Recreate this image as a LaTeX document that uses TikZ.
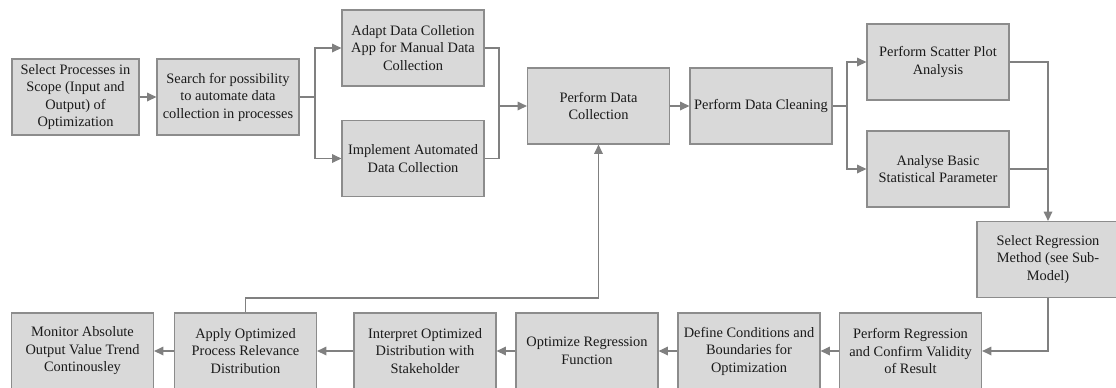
\documentclass[tikz,border=0pt]{standalone}
\usepackage{fontspec}
\setmainfont{Liberation Serif}
\usetikzlibrary{arrows.meta}
\definecolor{boxfill}{HTML}{D9D9D9}
\definecolor{boxline}{HTML}{8C8C8C}
\definecolor{conline}{HTML}{808080}
\definecolor{txt}{HTML}{1A1A1A}
\tikzset{
  stepbox/.style={draw=boxline, fill=boxfill, line width=0.9pt, inner sep=0pt,
    minimum width=106.5pt, minimum height=57pt, align=center,
    text=txt, font=\fontsize{10.8}{13.1}\selectfont},
  conn/.style={draw=conline, line width=0.9pt},
  arr/.style={conn, -{Triangle[length=7pt,width=6.5pt]}},
}
\begin{document}
\begin{tikzpicture}[x=0.75pt,y=-0.75pt]
\useasboundingbox (0,0) rectangle (1116,387);
\clip (0,0) rectangle (1116,387);
% top flow
\node[stepbox, minimum width=95.25pt] (b1) at (75.5,97) {Select Processes in\\Scope (Input and\\Output) of\\Optimization};
\node[stepbox] (b2) at (228,97) {Search for possibility\\to automate data\\collection in processes};
\node[stepbox] (b3) at (413,48) {Adapt Data Colletion\\App for Manual Data\\Collection};
\node[stepbox] (b4) at (413,158.5) {Implement Automated\\Data Collection};
\node[stepbox] (b5) at (598.5,106) {Perform Data\\Collection};
\node[stepbox] (b6) at (761,106) {Perform Data Cleaning};
\node[stepbox] (b7) at (938,62) {Perform Scatter Plot\\Analysis};
\node[stepbox] (b8) at (938,169) {Analyse Basic\\Statistical Parameter};
\node[stepbox] (b9) at (1048,259.5) {Select Regression\\Method (see Sub-\\Model)};
% bottom flow
\node[stepbox] (c1) at (82.5,351) {Monitor Absolute\\Output Value Trend\\Continousley};
\node[stepbox] (c2) at (245.5,351) {Apply Optimized\\Process Relevance\\Distribution};
\node[stepbox] (c3) at (425,351) {Interpret Optimized\\Distribution with\\Stakeholder};
\node[stepbox] (c4) at (587,351) {Optimize Regression\\Function};
\node[stepbox] (c5) at (749,351) {Define Conditions and\\Boundaries for\\Optimization};
\node[stepbox] (c6) at (910.5,351) {Perform Regression\\and Confirm Validity\\of Result};
% junction coordinates
\coordinate (j1) at (315,97);
\coordinate (j2) at (499,106);
\coordinate (j3) at (847,106);
\coordinate (j4) at (1048,169);
\coordinate (j5) at (245.5,298);
\coordinate (j6) at (598.5,298);
% connectors
\draw[arr] (b1) -- (b2);
\draw[conn] (b2.east) -- (j1);
\draw[arr] (j1) |- (b3.west);
\draw[arr] (j1) |- (b4.west);
\draw[conn] (b3.east) -| (j2);
\draw[conn] (b4.east) -| (j2);
\draw[arr] (j2) -- (b5.west);
\draw[arr] (b5) -- (b6);
\draw[conn] (b6.east) -- (j3);
\draw[arr] (j3) |- (b7.west);
\draw[arr] (j3) |- (b8.west);
\draw[conn] (b8.east) -- (j4);
\draw[arr] (b7.east) -| (b9.north);
\draw[arr] (b9.south) |- (c6.east);
\draw[arr] (c6) -- (c5);
\draw[arr] (c5) -- (c4);
\draw[arr] (c4) -- (c3);
\draw[arr] (c3) -- (c2);
\draw[arr] (c2) -- (c1);
\draw[arr] (c2.north) -- (j5) -- (j6) -- (b5.south);
\end{tikzpicture}
\end{document}
